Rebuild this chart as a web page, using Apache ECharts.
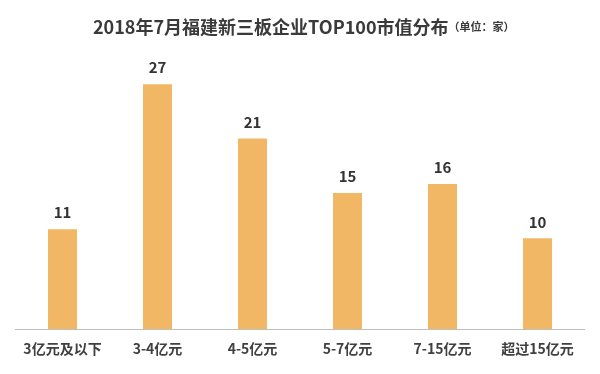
<!DOCTYPE html>
<html><head><meta charset="utf-8">
<script src="https://cdn.jsdelivr.net/npm/echarts@6/dist/echarts.min.js"></script>
<style>html,body{margin:0;padding:0;background:#fff}#c{width:600px;height:374px}</style>
</head><body><div id="c"></div>
<script>
const categories = ['3亿元及以下','3-4亿元','4-5亿元','5-7亿元','7-15亿元','超过15亿元'];
const values = [11,27,21,15,16,10];
const titleMain = '2018年7月福建新三板企业TOP100市值分布';
const titleUnit = '（单位：家）';
const chart = echarts.init(document.getElementById('c'));
chart.setOption({
  backgroundColor:'#fff',
  title:{
    text:'{a|'+titleMain+'}{b|'+titleUnit+'}',
    left:88, top:13,
    textStyle:{rich:{
      a:{fontSize:18,fontWeight:'bold',color:'#3a3a3a',fontFamily:'"Noto Sans CJK SC", sans-serif'},
      b:{fontSize:11,fontWeight:'bold',color:'#3a3a3a',fontFamily:'"Noto Sans CJK SC", sans-serif'}
    }}
  },
  grid:{left:15,right:15,top:57,bottom:45},
  xAxis:{type:'category',data:categories,
    axisLine:{lineStyle:{color:'#bfbfbf',width:1}},
    axisTick:{show:false},
    axisLabel:{interval:0,color:'#404040',fontSize:14,fontWeight:'bold',margin:13,fontFamily:'"Noto Sans CJK SC", sans-serif'}
  },
  yAxis:{type:'value',min:0,max:30,show:false,splitLine:{show:false}},
  series:[{type:'bar',data:values,barWidth:29,
    itemStyle:{color:'#F2B764'},
    label:{show:true,position:'top',distance:9,color:'#333',fontSize:15,fontWeight:'bold',fontFamily:'"Noto Sans CJK SC", sans-serif'}
  }]
});
</script></body></html>
